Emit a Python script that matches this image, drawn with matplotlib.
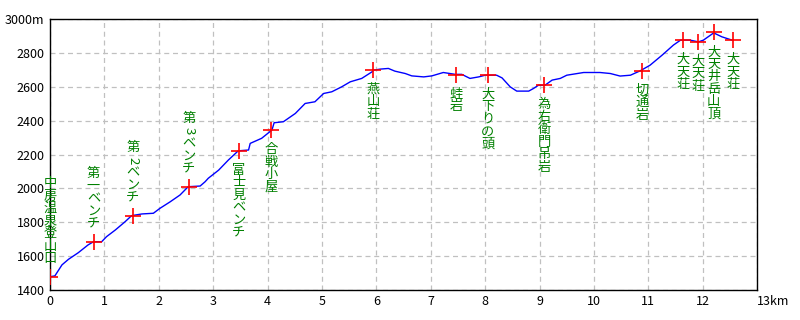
import matplotlib
matplotlib.use('Agg')
import matplotlib.pyplot as plt
from matplotlib.transforms import ScaledTranslation

plt.rcParams['font.family'] = ['Noto Sans CJK JP', 'DejaVu Sans']

# elevation profile
dist_km = [0.0, 0.09, 0.22, 0.34, 0.52, 0.70, 0.80, 0.95, 1.04, 1.20, 1.38, 1.50,
           1.69, 1.90, 2.02, 2.21, 2.39, 2.54, 2.76, 2.85, 2.91, 3.10, 3.28, 3.46,
           3.65, 3.68, 3.89, 4.08, 4.12, 4.29, 4.51, 4.69, 4.87, 5.03, 5.18, 5.36,
           5.52, 5.73, 5.92, 5.95, 6.07, 6.22, 6.34, 6.53, 6.65, 6.87, 7.02, 7.23,
           7.45, 7.57, 7.72, 7.88, 8.00, 8.21, 8.31, 8.46, 8.58, 8.80, 8.89, 8.98,
           9.10, 9.23, 9.38, 9.50, 9.81, 10.11, 10.30, 10.48, 10.67, 10.85, 11.03,
           11.25, 11.46, 11.59, 11.77, 11.92, 12.01, 12.20, 12.35, 12.54]
elev_m = [1478, 1483, 1548, 1581, 1620, 1666, 1685, 1685, 1715, 1754, 1803, 1839,
          1849, 1853, 1882, 1921, 1961, 2010, 2014, 2039, 2060, 2108, 2168, 2222,
          2227, 2266, 2296, 2345, 2388, 2394, 2443, 2502, 2512, 2561, 2571, 2600,
          2630, 2650, 2689, 2699, 2705, 2709, 2693, 2679, 2665, 2659, 2665, 2685,
          2674, 2674, 2650, 2659, 2669, 2669, 2653, 2600, 2575, 2575, 2591, 2610,
          2610, 2640, 2650, 2669, 2685, 2685, 2679, 2664, 2669, 2695, 2728,
          2787, 2847, 2876, 2876, 2866, 2876, 2919, 2896, 2876]

point_names = ['中房温泉登山口', '第一ベンチ', '第2ベンチ', '第3ベンチ', '富士見ベンチ',
               '合戦小屋', '燕山荘', '蛙岩', '大下りの頭', '為右衛門吊岩', '切通岩',
               '大天荘', '大天荘', '大天井岳山頂', '大天荘']
point_km = [0.0, 0.80, 1.52, 2.55, 3.47, 4.07, 5.94, 7.47, 8.05, 9.08, 10.88,
            11.64, 11.92, 12.20, 12.55]
point_elev = [1478, 1685, 1838, 2010, 2222, 2343, 2700, 2673, 2670, 2610, 2695,
              2876, 2866, 2922, 2876]
names_above = ['中房温泉登山口', '第一ベンチ', '第2ベンチ', '第3ベンチ']

x_ticks = list(range(0, 14))
x_labels = [str(v) for v in x_ticks[:-1]] + ['13km']
y_ticks = list(range(1400, 3001, 200))
y_labels = [str(v) for v in y_ticks[:-1]] + ['3000m']


def vertical_label(ax, x, y, name, above):
    step = 9.0
    n = len(name)
    for i, ch in enumerate(name):
        if above:
            dy = 13 + (n - 1 - i) * step
        else:
            dy = -14 - i * step
        rot = -90 if ch.isascii() else 0
        ax.annotate(ch, (x, y), xytext=(0, dy), textcoords='offset points',
                    ha='center', va='center', fontsize=9.5, color='#008000',
                    rotation=rot, zorder=5)


fig = plt.figure(figsize=(8, 3.2), dpi=100)
ax = fig.add_axes([0.0625, 0.094, 0.884, 0.846])

ax.plot(dist_km, elev_m, color='#0000ff', lw=1, zorder=3)
ax.plot(point_km, point_elev, '+', color='#ff0000', ms=11, mew=1.2, zorder=4)

for name, km, el in zip(point_names, point_km, point_elev):
    vertical_label(ax, km, el, name, name in names_above)

ax.set_xlim(0, 13)
ax.set_ylim(1400, 3000)
ax.set_xticks(x_ticks)
ax.set_xticklabels(x_labels, fontsize=9)
ax.set_yticks(y_ticks)
ax.set_yticklabels(y_labels, fontsize=9)
last = ax.get_xticklabels()[-1]
last.set_ha('left')
last.set_transform(last.get_transform() + ScaledTranslation(-0.05, 0, fig.dpi_scale_trans))
ax.tick_params(length=0, pad=4)
ax.grid(True, color='#c0c0c0', ls=(0, (4, 3)), lw=0.9)
for s in ax.spines.values():
    s.set_color('black')
    s.set_linewidth(1)

fig.savefig('out.png', dpi=100)
